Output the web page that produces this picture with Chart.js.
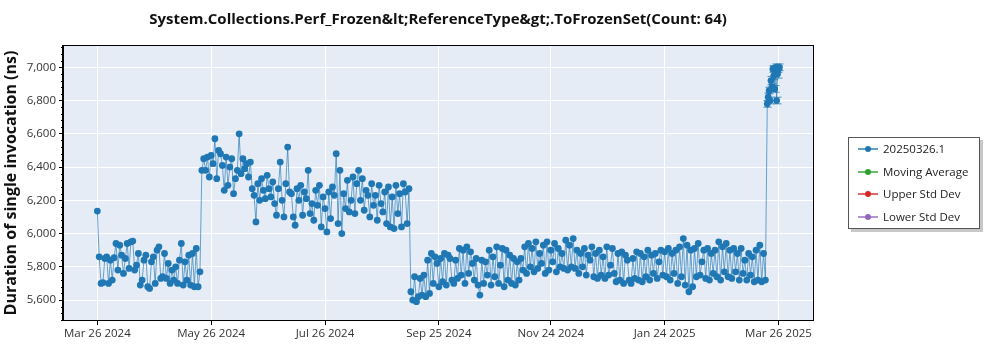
<!DOCTYPE html>
<html>
<head>
<meta charset="utf-8">
<script src="https://cdn.jsdelivr.net/npm/chart.js@4.4.1/dist/chart.umd.min.js"></script>
<style>
  html, body { margin: 0; padding: 0; background: #fff; }
  #wrap { position: relative; width: 1000px; height: 350px; }
  #title { position: absolute; left: 0; width: 876px; top: 8px; text-align: center;
           font-family: "Open Sans", sans-serif; font-weight: bold; font-size: 15px; color: #111; }
  #legend { position: absolute; left: 848px; top: 137px; width: 130px; height: 90px;
            border: 1px solid #555; background: #fff; box-shadow: 3px 3px 0 #c8c8c8;
            font-family: "Open Sans", sans-serif; font-size: 11.5px; color: #222; }
  .item { position: absolute; left: 9px; height: 16px; line-height: 16px; white-space: nowrap; }
  .sw { position: absolute; left: 0; top: 7px; width: 20px; height: 2px; }
  .dot { position: absolute; left: 7px; top: 5px; width: 6px; height: 6px; border-radius: 50%; }
  .lbl { position: absolute; left: 25px; top: 0; }
</style>
</head>
<body>
<div id="wrap">
  <canvas id="c" width="1000" height="350"></canvas>
  <div id="title"></div>
  <div id="legend"></div>
</div>
<script>
// ---------------- data ----------------
const chartTitle = "System.Collections.Perf_Frozen&lt;ReferenceType&gt;.ToFrozenSet(Count: 64)";
const yAxisTitle = "Duration of single invocation (ns)";
const baseDate = "2024-03-26";
const xTickDates = ["2024-03-26", "2024-05-26", "2024-07-26", "2024-09-25", "2024-11-24", "2025-01-24", "2025-03-26"];
const xTickLabels = ["Mar 26 2024", "May 26 2024", "Jul 26 2024", "Sep 25 2024", "Nov 24 2024", "Jan 24 2025", "Mar 26 2025"];
const yTicks = [5600, 5800, 6000, 6200, 6400, 6600, 6800, 7000];
const yMin = 5480, yMax = 7128;
const legendNames = ["20250326.1", "Moving Average", "Upper Std Dev", "Lower Std Dev"];
const legendColors = ["#1f77b4", "#2ca02c", "#d62728", "#9467bd"];

// run segments: start date, runs per day, measured durations (ns)
const segStarts = ["2024-03-26", "2024-05-21", "2024-09-10", "2025-03-20"];
const segRunsPerDay = [1, 1, 1, 2];
const segA = [6135,
  5860, 5700, 5705, 5850, 5860, 5700, 5840, 5720,
  5855, 5940, 5780, 5930, 5870, 5760, 5850,
  5940, 5790, 5950, 5955, 5780, 5810, 5880, 5690, 5720, 5840,
  5870, 5680, 5670, 5830, 5860, 5700, 5900, 5920, 5730, 5740,
  5880, 5730, 5820, 5700, 5780, 5720, 5800, 5700, 5840, 5940,
  5690, 5830, 5720, 5870, 5690, 5880, 5680, 5910, 5680, 5770];
const segB = [6380,
  6450, 6380, 6460, 6340, 6470, 6420, 6570, 6330, 6500, 6480,
  6410, 6260, 6460, 6290, 6400, 6450, 6240, 6330, 6380, 6600,
  6360, 6450, 6390, 6420, 6340, 6430, 6270, 6230, 6070, 6300,
  6200, 6330, 6260, 6210, 6350, 6270, 6220, 6310, 6180, 6110,
  6270, 6430, 6200, 6100, 6300, 6520, 6250, 6240, 6100, 6050,
  6270, 6200, 6290, 6110, 6250, 6210, 6380, 6120, 6180, 6080,
  6260, 6170, 6290, 6040, 6220, 6150, 6010, 6250, 6090, 6280,
  6230, 6480, 6060, 6380, 6000, 6240, 6150, 6320, 6130, 6200,
  6340, 6120, 6300, 6380, 6200, 6330, 6140, 6260, 6230, 6100,
  6300, 6170, 6230, 6080, 6290, 6180, 6130, 6250, 6060, 6280,
  6040, 6220, 6030, 6290, 6120, 6240, 6040, 6300, 6250, 6060, 6270];
const segC = [
  5650, 5600, 5740, 5590, 5620, 5730, 5630, 5750, 5620, 5840,
  5640, 5880, 5700, 5860, 5820, 5680, 5850, 5710, 5880, 5690,
  5870, 5850, 5720, 5700, 5840, 5730, 5910, 5750, 5900, 5700,
  5920, 5760, 5890, 5820, 5720, 5850, 5690, 5630, 5840, 5700,
  5830, 5750, 5900, 5690, 5860, 5740, 5920, 5700, 5810, 5910,
  5680, 5900, 5720, 5870, 5700, 5850, 5690, 5830, 5720, 5850,
  5780, 5920, 5760, 5940, 5800, 5910, 5770, 5950, 5790, 5880,
  5820, 5930, 5760, 5950, 5780, 5900, 5830, 5940, 5770, 5910,
  5800, 5880, 5790, 5960, 5780, 5930, 5800, 5970, 5790, 5900,
  5760, 5880, 5800, 5910, 5750, 5870, 5840, 5920, 5740, 5880,
  5730, 5900, 5750, 5860, 5730, 5920, 5750, 5810, 5910, 5760,
  5710, 5880, 5720, 5890, 5700, 5870, 5840, 5720, 5700, 5850,
  5730, 5890, 5720, 5880, 5710, 5860, 5740, 5900, 5720, 5870,
  5760, 5880, 5730, 5830, 5900, 5750, 5890, 5740, 5910, 5720,
  5880, 5760, 5900, 5700, 5920, 5740, 5970, 5690, 5930, 5650,
  5900, 5680, 5910, 5740, 5940, 5750, 5830, 5900, 5730, 5910,
  5720, 5880, 5760, 5900, 5740, 5950, 5720, 5920, 5770, 5940,
  5740, 5900, 5730, 5910, 5770, 5880, 5720, 5910, 5760, 5840,
  5720, 5880, 5750, 5860, 5710, 5900, 5720, 5930, 5710, 5880, 5720];
const segD = [6780, 6820, 6860, 6800, 6920, 6880, 6990, 6950, 6870, 7000, 6800, 6960, 6990, 7000];
const segDErr = [20, 25, 20, 20, 25, 20, 20, 25, 20, 20, 20, 25, 20, 20];

// ---------------- build ----------------
const DAY = 86400000;
const dayOf = s => (Date.parse(s + "T00:00:00Z") - Date.parse(baseDate + "T00:00:00Z")) / DAY;
const segs = [segA, segB, segC, segD];
const points = [];
const errs = [];
segs.forEach((vals, si) => {
  const d0 = dayOf(segStarts[si]);
  vals.forEach((v, i) => {
    points.push({ x: d0 + i / segRunsPerDay[si], y: v });
    errs.push(si === 3 ? segDErr[i] : 0);
  });
});
const xTickDays = xTickDates.map(dayOf);

document.getElementById("title").textContent = chartTitle;
const lg = document.getElementById("legend");
legendNames.forEach((n, i) => {
  const it = document.createElement("div");
  it.className = "item";
  it.style.top = (3 + i * 22.5) + "px";
  it.innerHTML = '<span class="sw"></span><span class="dot"></span><span class="lbl"></span>';
  it.querySelector(".sw").style.background = legendColors[i];
  it.querySelector(".sw").style.opacity = "0.7";
  it.querySelector(".dot").style.background = legendColors[i];
  it.querySelector(".lbl").textContent = n;
  lg.appendChild(it);
});

const deco = {
  id: "deco",
  beforeDraw(chart) {
    const { ctx, chartArea: a } = chart;
    ctx.save();
    ctx.fillStyle = "#e5ecf6";
    ctx.fillRect(a.left, a.top, a.right - a.left, a.bottom - a.top);
    ctx.restore();
  },
  afterDatasetsDraw(chart) {
    const { ctx } = chart;
    const xs = chart.scales.x, ys = chart.scales.y;
    ctx.save();
    ctx.strokeStyle = "rgba(31,119,180,0.8)";
    ctx.lineWidth = 1;
    points.forEach((p, i) => {
      if (!errs[i]) return;
      const px = Math.round(xs.getPixelForValue(p.x)) + 0.5;
      const y1 = ys.getPixelForValue(p.y - errs[i]);
      const y2 = ys.getPixelForValue(p.y + errs[i]);
      ctx.beginPath();
      ctx.moveTo(px, y1); ctx.lineTo(px, y2);
      ctx.moveTo(px - 4, y1); ctx.lineTo(px + 4, y1);
      ctx.moveTo(px - 4, y2); ctx.lineTo(px + 4, y2);
      ctx.stroke();
    });
    ctx.restore();
  },
  afterDraw(chart) {
    const { ctx, chartArea: a } = chart;
    const ys = chart.scales.y;
    ctx.save();
    ctx.strokeStyle = "#000";
    ctx.lineWidth = 1;
    ctx.strokeRect(Math.round(a.left) - 0.5, Math.round(a.top) - 0.5, Math.round(a.right - a.left) + 1, Math.round(a.bottom - a.top) + 1);
    ctx.beginPath();
    for (let v = 5480; v <= yMax; v += 40) {
      if (v % 200 === 0) continue;
      const y = Math.round(ys.getPixelForValue(v)) + 0.5;
      ctx.moveTo(a.left - 2, y); ctx.lineTo(a.left, y);
    }
    ctx.stroke();
    ctx.restore();
  }
};

new Chart(document.getElementById("c"), {
  type: "line",
  data: {
    datasets: [
      { label: legendNames[0], data: points, borderColor: "rgba(31,119,180,0.65)", borderWidth: 1,
        pointRadius: 3.4, pointHoverRadius: 3.4, pointBackgroundColor: "#1f77b4", pointBorderWidth: 0,
        tension: 0, parsing: false }
    ]
  },
  options: {
    responsive: false,
    animation: false,
    events: [],
    layout: { padding: { left: 0, right: 187, top: 46, bottom: 0 } },
    plugins: { legend: { display: false }, title: { display: false }, tooltip: { enabled: false } },
    scales: {
      x: {
        type: "linear", min: -18.4, max: 383.5,
        afterFit(s) { s.height = 30; },
        afterBuildTicks(s) { s.ticks = xTickDays.map(v => ({ value: v })); },
        grid: { color: "#ffffff", lineWidth: 1, tickColor: "#000", tickLength: 5, drawTicks: true },
        border: { display: true, color: "#000", width: 1 },
        ticks: {
          autoSkip: false, maxRotation: 0, padding: 2, color: "#333",
          font: { family: "Open Sans", size: 11.5 },
          callback: (v) => { const i = xTickDays.indexOf(v); return i >= 0 ? xTickLabels[i] : ""; }
        }
      },
      y: {
        min: yMin, max: yMax,
        afterFit(s) { s.width = 63; },
        afterBuildTicks(s) { s.ticks = yTicks.map(v => ({ value: v })); },
        grid: { color: "#ffffff", lineWidth: 1, tickColor: "#000", tickLength: 4, drawTicks: true },
        border: { display: true, color: "#000", width: 1 },
        title: { display: true, text: yAxisTitle, color: "#111", padding: { top: 2, bottom: 0 },
                 font: { family: "Open Sans", size: 16, weight: "bold" } },
        ticks: { padding: 3, color: "#333", font: { family: "Open Sans", size: 11.5 },
                 callback: (v) => v.toLocaleString("en-US") }
      }
    }
  },
  plugins: [deco]
});
</script>
</body>
</html>
